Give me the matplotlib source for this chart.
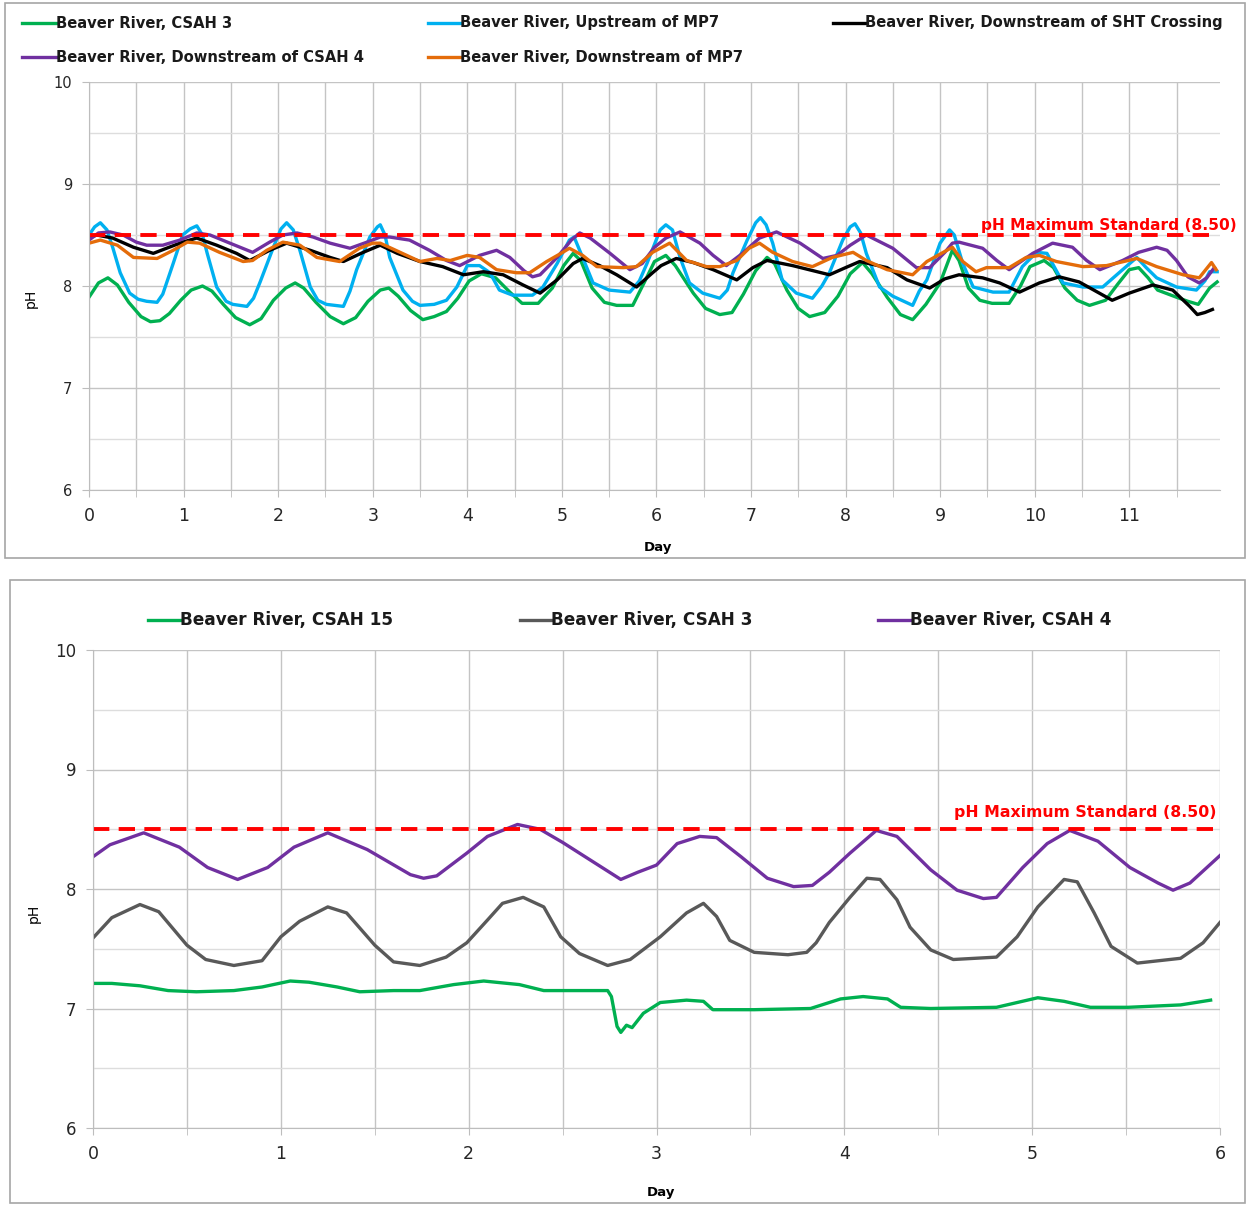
import numpy as np
import matplotlib
matplotlib.use("Agg")
import matplotlib.pyplot as plt
from matplotlib.lines import Line2D
from matplotlib.patches import Rectangle
from matplotlib.ticker import MultipleLocator

# ---- top panel data (day, pH) ----
csah3_day = [0.0, 0.1, 0.2, 0.3, 0.42, 0.55, 0.65, 0.75, 0.85, 0.97, 1.08, 1.2, 1.3, 1.42, 1.55, 1.7, 1.82, 1.95,
             2.08, 2.18, 2.27, 2.4, 2.55, 2.69, 2.82, 2.95, 3.08, 3.17, 3.27, 3.4, 3.53, 3.65, 3.78, 3.9, 4.02,
             4.15, 4.3, 4.45, 4.58, 4.75, 4.9, 5.02, 5.12, 5.2, 5.32, 5.45, 5.58, 5.75, 5.88, 5.98, 6.1, 6.2,
             6.39, 6.52, 6.67, 6.8, 6.92, 7.05, 7.17, 7.25, 7.38, 7.5, 7.62, 7.78, 7.92, 8.05, 8.18, 8.28, 8.44,
             8.58, 8.71, 8.85, 9.0, 9.13, 9.2, 9.3, 9.42, 9.55, 9.73, 9.85, 9.95, 10.1, 10.2, 10.32, 10.45,
             10.58, 10.75, 10.88, 11.0, 11.1, 11.2, 11.3, 11.5, 11.62, 11.73, 11.85, 11.93]
csah3_ph = [7.89, 8.03, 8.08, 8.01, 7.84, 7.70, 7.65, 7.66, 7.73, 7.86, 7.96, 8.0, 7.95, 7.82, 7.69, 7.62, 7.68, 7.86,
            7.98, 8.03, 7.98, 7.84, 7.70, 7.63, 7.69, 7.85, 7.96, 7.98, 7.90, 7.76, 7.67, 7.70, 7.75, 7.88, 8.05,
            8.12, 8.08, 7.94, 7.83, 7.83, 7.98, 8.20, 8.32, 8.25, 7.98, 7.84, 7.81, 7.81, 8.05, 8.24, 8.30, 8.20,
            7.93, 7.78, 7.72, 7.74, 7.92, 8.15, 8.28, 8.22, 7.96, 7.78, 7.70, 7.74, 7.90, 8.12, 8.23, 8.12, 7.89,
            7.72, 7.67, 7.82, 8.03, 8.35, 8.25, 7.98, 7.86, 7.83, 7.83, 8.0, 8.19, 8.25, 8.18, 7.98, 7.86,
            7.81, 7.86, 8.02, 8.16, 8.18, 8.08, 7.96, 7.89, 7.85, 7.82, 7.98, 8.04]

up_mp7_day = [0.0, 0.06, 0.12, 0.19, 0.25, 0.33, 0.43, 0.52, 0.61, 0.72, 0.78, 0.89, 0.99, 1.07, 1.14, 1.2, 1.25,
              1.35, 1.45, 1.52, 1.67, 1.74, 1.81, 1.95, 2.03, 2.09, 2.16, 2.23, 2.34, 2.42, 2.51, 2.69, 2.76,
              2.83, 2.97, 3.05, 3.08, 3.13, 3.18, 3.32, 3.42, 3.5, 3.65, 3.78, 3.89, 4.0, 4.13, 4.24, 4.34, 4.48,
              4.69, 4.8, 4.95, 5.08, 5.13, 5.22, 5.33, 5.5, 5.72, 5.82, 5.9, 6.04, 6.1, 6.17, 6.25, 6.35, 6.49,
              6.67, 6.75, 6.81, 6.96, 7.05, 7.1, 7.16, 7.23, 7.33, 7.48, 7.65, 7.75, 7.83, 7.97, 8.05, 8.1, 8.16,
              8.22, 8.36, 8.5, 8.71, 8.78, 8.86, 9.0, 9.1, 9.15, 9.24, 9.35, 9.56, 9.73, 9.87, 10.02, 10.13,
              10.3, 10.51, 10.72, 10.93, 11.08, 11.18, 11.29, 11.5, 11.71, 11.8, 11.85, 11.93]
up_mp7_ph = [8.50, 8.58, 8.62, 8.55, 8.38, 8.13, 7.93, 7.87, 7.85, 7.84, 7.92, 8.22, 8.50, 8.56, 8.59, 8.50, 8.32,
             7.99, 7.85, 7.82, 7.80, 7.88, 8.04, 8.38, 8.56, 8.62, 8.55, 8.35, 7.99, 7.86, 7.82, 7.80, 7.95,
             8.16, 8.48, 8.58, 8.60, 8.50, 8.28, 7.96, 7.85, 7.81, 7.82, 7.86, 7.99, 8.20, 8.20, 8.13, 7.96, 7.91,
             7.91, 7.99, 8.22, 8.45, 8.48, 8.28, 8.03, 7.96, 7.94, 8.05, 8.22, 8.55, 8.60, 8.55, 8.28, 8.03, 7.93,
             7.88, 7.96, 8.13, 8.45, 8.62, 8.67, 8.60, 8.42, 8.06, 7.93, 7.88, 8.0, 8.13, 8.45, 8.58, 8.61, 8.52,
             8.32, 7.99, 7.90, 7.81, 7.95, 8.06, 8.42, 8.55, 8.50, 8.22, 7.99, 7.94, 7.94, 8.19, 8.33, 8.32,
             8.03, 7.99, 7.99, 8.16, 8.28, 8.18, 8.08, 7.99, 7.96, 8.05, 8.14, 8.14]

sht_day = [0.0, 0.08, 0.25, 0.47, 0.68, 0.82, 0.99, 1.14, 1.35, 1.56, 1.7, 1.91, 2.09, 2.34, 2.55, 2.69, 2.9, 3.08,
           3.26, 3.5, 3.74, 3.96, 4.17, 4.38, 4.59, 4.77, 4.95, 5.12, 5.22, 5.4, 5.58, 5.79, 5.96, 6.05, 6.21,
           6.39, 6.6, 6.85, 7.02, 7.17, 7.44, 7.7, 7.83, 8.0, 8.15, 8.44, 8.65, 8.89, 9.05, 9.2, 9.45, 9.63,
           9.84, 10.05, 10.26, 10.47, 10.82, 11.0, 11.25, 11.46, 11.64, 11.72, 11.8, 11.88]
sht_ph = [8.47, 8.50, 8.47, 8.38, 8.32, 8.37, 8.43, 8.47, 8.40, 8.32, 8.25, 8.35, 8.42, 8.35, 8.28, 8.24, 8.33, 8.40,
          8.32, 8.24, 8.19, 8.11, 8.14, 8.11, 8.01, 7.93, 8.06, 8.22, 8.27, 8.20, 8.11, 7.99, 8.13, 8.20, 8.27,
          8.23, 8.16, 8.06, 8.18, 8.25, 8.20, 8.14, 8.11, 8.18, 8.24, 8.18, 8.06, 7.98, 8.07, 8.11, 8.08, 8.03,
          7.94, 8.03, 8.09, 8.04, 7.86, 7.93, 8.01, 7.96, 7.80, 7.72, 7.74, 7.77]

dn_csah4_day = [0.0, 0.1, 0.22, 0.36, 0.5, 0.61, 0.78, 0.96, 1.14, 1.28, 1.49, 1.73, 1.91, 2.05, 2.2, 2.37, 2.55,
                2.76, 2.94, 3.08, 3.18, 3.39, 3.6, 3.78, 3.92, 4.13, 4.31, 4.45, 4.6, 4.69, 4.77, 4.95, 5.1,
                5.19, 5.3, 5.51, 5.72, 5.85, 5.98, 6.1, 6.25, 6.46, 6.6, 6.74, 6.91, 7.09, 7.27, 7.52, 7.76, 7.91,
                8.05, 8.22, 8.5, 8.75, 8.89, 9.05, 9.13, 9.2, 9.45, 9.6, 9.73, 9.98, 10.19, 10.4, 10.55, 10.69,
                10.93, 11.1, 11.29, 11.4, 11.5, 11.62, 11.74, 11.82, 11.9]
dn_csah4_ph = [8.45, 8.52, 8.53, 8.50, 8.43, 8.40, 8.40, 8.45, 8.52, 8.50, 8.42, 8.33, 8.43, 8.50, 8.52, 8.48, 8.42,
               8.37, 8.43, 8.48, 8.48, 8.45, 8.35, 8.25, 8.20, 8.30, 8.35, 8.28, 8.15, 8.09, 8.11, 8.28, 8.45,
               8.52, 8.47, 8.32, 8.16, 8.22, 8.38, 8.47, 8.53, 8.42, 8.30, 8.20, 8.32, 8.47, 8.53, 8.42, 8.27, 8.30,
               8.40, 8.50, 8.37, 8.18, 8.18, 8.33, 8.42, 8.43, 8.37, 8.25, 8.16, 8.32, 8.42, 8.38, 8.25, 8.16,
               8.25, 8.33, 8.38, 8.35, 8.25, 8.09, 8.03, 8.08, 8.18]

dn_mp7_day = [0.0, 0.12, 0.3, 0.47, 0.72, 0.89, 1.04, 1.17, 1.38, 1.63, 1.73, 1.88, 2.05, 2.23, 2.41, 2.65, 2.86,
              3.0, 3.08, 3.29, 3.5, 3.68, 3.82, 4.0, 4.13, 4.31, 4.52, 4.66, 4.84, 5.01, 5.08, 5.22, 5.37, 5.65,
              5.79, 5.96, 6.14, 6.32, 6.53, 6.67, 6.85, 6.98, 7.09, 7.23, 7.44, 7.65, 7.86, 8.08, 8.22, 8.44,
              8.71, 8.86, 9.13, 9.24, 9.38, 9.49, 9.73, 9.91, 10.05, 10.23, 10.51, 10.76, 11.08, 11.29, 11.57,
              11.74, 11.87, 11.92]
dn_mp7_ph = [8.42, 8.45, 8.40, 8.28, 8.27, 8.35, 8.43, 8.42, 8.33, 8.24, 8.25, 8.35, 8.43, 8.40, 8.28, 8.24, 8.37,
             8.42, 8.42, 8.33, 8.24, 8.27, 8.25, 8.30, 8.28, 8.16, 8.13, 8.13, 8.24, 8.33, 8.37, 8.30, 8.19, 8.18,
             8.19, 8.33, 8.42, 8.25, 8.19, 8.19, 8.25, 8.37, 8.42, 8.33, 8.24, 8.19, 8.28, 8.33, 8.25, 8.16,
             8.11, 8.24, 8.38, 8.24, 8.14, 8.18, 8.18, 8.28, 8.30, 8.24, 8.19, 8.20, 8.27, 8.19, 8.11,
             8.08, 8.23, 8.16]

# ---- bottom panel data ----
b_csah15_day = [0.0, 0.1, 0.25, 0.4, 0.55, 0.75, 0.9, 1.05, 1.15, 1.3, 1.42, 1.6, 1.74, 1.92, 2.08, 2.27, 2.4,
                2.74, 2.76, 2.79, 2.81, 2.84, 2.87, 2.93, 3.02, 3.16, 3.25, 3.3, 3.52, 3.82, 3.98, 4.1, 4.23,
                4.3, 4.46, 4.81, 5.03, 5.17, 5.31, 5.51, 5.79, 5.95]
b_csah15_ph = [7.21, 7.21, 7.19, 7.15, 7.14, 7.15, 7.18, 7.23, 7.22, 7.18, 7.14, 7.15, 7.15, 7.20, 7.23, 7.20, 7.15,
               7.15, 7.10, 6.85, 6.80, 6.86, 6.84, 6.96, 7.05, 7.07, 7.06, 6.99, 6.99, 7.0, 7.08, 7.10, 7.08,
               7.01, 7.0, 7.01, 7.09, 7.06, 7.01, 7.01, 7.03, 7.07]

b_csah3_day = [0.0, 0.1, 0.25, 0.35, 0.5, 0.6, 0.75, 0.9, 1.0, 1.1, 1.25, 1.35, 1.5, 1.6, 1.74, 1.88, 1.99, 2.1,
               2.18, 2.29, 2.4, 2.49, 2.59, 2.74, 2.86, 3.02, 3.16, 3.25, 3.32, 3.39, 3.52, 3.7, 3.8, 3.85, 3.92,
               4.03, 4.12, 4.19, 4.28, 4.35, 4.46, 4.58, 4.81, 4.92, 5.03, 5.17, 5.24, 5.33, 5.42, 5.56, 5.79,
               5.91, 6.0]
b_csah3_ph = [7.59, 7.76, 7.87, 7.81, 7.53, 7.41, 7.36, 7.40, 7.60, 7.73, 7.85, 7.80, 7.53, 7.39, 7.36, 7.43, 7.55, 7.74,
              7.88, 7.93, 7.85, 7.60, 7.46, 7.36, 7.41, 7.60, 7.80, 7.88, 7.77, 7.57, 7.47, 7.45, 7.47, 7.55, 7.72,
              7.93, 8.09, 8.08, 7.91, 7.68, 7.49, 7.41, 7.43, 7.60, 7.85, 8.08, 8.06, 7.80, 7.52, 7.38, 7.42,
              7.55, 7.72]

b_csah4_day = [0.0, 0.09, 0.27, 0.46, 0.61, 0.77, 0.93, 1.07, 1.25, 1.46, 1.69, 1.76, 1.83, 1.99, 2.1, 2.26, 2.38,
               2.5, 2.66, 2.81, 2.9, 3.0, 3.11, 3.23, 3.32, 3.45, 3.59, 3.73, 3.83, 3.92, 4.03, 4.17, 4.28, 4.46,
               4.6, 4.74, 4.81, 4.95, 5.08, 5.2, 5.35, 5.52, 5.67, 5.75, 5.84, 6.0]
b_csah4_ph = [8.27, 8.37, 8.47, 8.35, 8.18, 8.08, 8.18, 8.35, 8.47, 8.33, 8.12, 8.09, 8.11, 8.30, 8.44, 8.54, 8.50,
              8.39, 8.23, 8.08, 8.14, 8.20, 8.38, 8.44, 8.43, 8.27, 8.09, 8.02, 8.03, 8.14, 8.30, 8.49, 8.44, 8.16,
              7.99, 7.92, 7.93, 8.18, 8.38, 8.49, 8.40, 8.18, 8.05, 7.99, 8.05, 8.28]

ph_max = 8.50

W, H = 1246, 1205
fig = plt.figure(figsize=(W / 100, H / 100), dpi=100)
plt.rcParams['font.family'] = 'DejaVu Sans'


def px(x, y):
    # pixel position -> figure fraction
    return x / W, 1 - y / H


def panel_box(x0, y0, x1, y1):
    fig.add_artist(Rectangle(px(x0, y1), (x1 - x0) / W, (y1 - y0) / H, transform=fig.transFigure,
                             fill=False, ec='#a6a6a6', lw=1.2))


def legend_item(x0, x1, y, label, color, size):
    a, b = px(x0, y)
    c, _ = px(x1, y)
    fig.add_artist(Line2D([a, c], [b, b], transform=fig.transFigure, color=color, lw=2.4))
    fig.text(c, b, label, fontsize=size, fontweight='bold', color='#1a1a1a', va='center', ha='left')


def style_axes(ax, xmax, xt_size, yt_size):
    ax.set_xlim(0, xmax)
    ax.set_ylim(6, 10)
    ax.xaxis.set_major_locator(MultipleLocator(1))
    ax.xaxis.set_minor_locator(MultipleLocator(0.5))
    ax.yaxis.set_major_locator(MultipleLocator(1))
    ax.yaxis.set_minor_locator(MultipleLocator(0.5))
    ax.grid(which='major', color='#c4c4c4', lw=1.0)
    ax.grid(which='minor', axis='x', color='#c4c4c4', lw=1.0)
    ax.grid(which='minor', axis='y', color='#dddddd', lw=1.0)
    ax.set_axisbelow(True)
    for s in ['top', 'right']:
        ax.spines[s].set_visible(False)
    for s in ['left', 'bottom']:
        ax.spines[s].set_color('#bdbdbd')
    ax.tick_params(axis='x', which='both', length=5, color='#bdbdbd', labelsize=xt_size,
                   labelcolor='#262626', pad=7)
    ax.tick_params(axis='y', which='major', length=5, color='#bdbdbd', labelsize=yt_size,
                   labelcolor='#262626', pad=7)
    ax.tick_params(axis='y', which='minor', length=0)


# ---- top panel ----
panel_box(5, 3, 1245, 558)
ax1 = fig.add_axes([89 / W, 1 - 490 / H, (1220 - 89) / W, 408 / H])
style_axes(ax1, 11.96, 12.5, 10.5)
lw = 2.4
ax1.plot(csah3_day, csah3_ph, color='#00b050', lw=lw)
ax1.plot(up_mp7_day, up_mp7_ph, color='#00b0f0', lw=lw)
ax1.plot(sht_day, sht_ph, color='#000000', lw=lw)
ax1.plot(dn_csah4_day, dn_csah4_ph, color='#7030a0', lw=lw)
ax1.plot(dn_mp7_day, dn_mp7_ph, color='#e46c0a', lw=lw)
ax1.plot([0, 11.9], [ph_max, ph_max], color='#ff0000', lw=2.8, dashes=(4.2, 2.4))
ax1.text(12.14, 8.59, 'pH Maximum Standard (8.50)', color='#ff0000', fontsize=11.1,
         fontweight='bold', ha='right', va='center')
ax1.set_ylabel('pH', fontsize=10)
ax1.yaxis.set_label_coords(-0.045, 0.47)
ax1.set_xlabel('Day', fontsize=9.5, fontweight='bold')
ax1.xaxis.set_label_coords(0.503, -0.125)

legend_item(22, 56, 23, 'Beaver River, CSAH 3', '#00b050', 10.6)
legend_item(428, 460, 23, 'Beaver River, Upstream of MP7', '#00b0f0', 10.6)
legend_item(833, 865, 23, 'Beaver River, Downstream of SHT Crossing', '#000000', 10.6)
legend_item(22, 56, 57, 'Beaver River, Downstream of CSAH 4', '#7030a0', 10.6)
legend_item(428, 460, 57, 'Beaver River, Downstream of MP7', '#e46c0a', 10.6)

# ---- bottom panel ----
panel_box(10, 580, 1245, 1203)
ax2 = fig.add_axes([93 / W, 1 - 1128 / H, (1220 - 93) / W, 478 / H])
style_axes(ax2, 6, 12.5, 12)
ax2.plot(b_csah15_day, b_csah15_ph, color='#00b050', lw=lw)
ax2.plot(b_csah3_day, b_csah3_ph, color='#595959', lw=lw)
ax2.plot(b_csah4_day, b_csah4_ph, color='#7030a0', lw=lw)
ax2.plot([0, 6], [ph_max, ph_max], color='#ff0000', lw=2.8, dashes=(4.2, 2.4))
ax2.text(5.98, 8.636, 'pH Maximum Standard (8.50)', color='#ff0000', fontsize=11.3,
         fontweight='bold', ha='right', va='center')
ax2.set_ylabel('pH', fontsize=10)
ax2.yaxis.set_label_coords(-0.046, 0.45)
ax2.set_xlabel('Day', fontsize=9.5, fontweight='bold')
ax2.xaxis.set_label_coords(0.504, -0.122)

legend_item(148, 180, 620, 'Beaver River, CSAH 15', '#00b050', 12.2)
legend_item(520, 551, 620, 'Beaver River, CSAH 3', '#595959', 12.2)
legend_item(878, 910, 620, 'Beaver River, CSAH 4', '#7030a0', 12.2)

fig.savefig('out.png', dpi=100)
